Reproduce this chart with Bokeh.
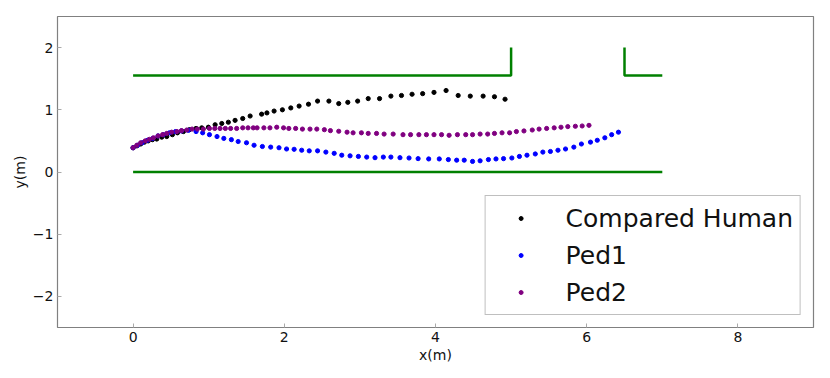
from bokeh.plotting import figure
from bokeh.models import Legend, LegendItem, FixedTicker, Range1d
from bokeh.embed import file_html
from bokeh.resources import INLINE

# Walls (corridor)
wall_lower_x = [0, 7]
wall_lower_y = [0, 0]
wall_upper_left_x = [0, 5, 5]
wall_upper_left_y = [1.55, 1.55, 2.0]
wall_upper_right_x = [6.5, 6.5, 7]
wall_upper_right_y = [2.0, 1.55, 1.55]

# Compared Human trajectory
human_x = [0.0, 0.05, 0.10, 0.15, 0.20, 0.256, 0.313, 0.379, 0.445, 0.52, 0.587, 0.666, 0.745, 0.833,
           0.908, 0.996, 1.085, 1.173, 1.26, 1.349, 1.45, 1.548, 1.70, 1.77, 1.865, 1.975,
           2.086, 2.196, 2.32, 2.44, 2.59, 2.72, 2.84, 2.97, 3.11, 3.26, 3.41, 3.55, 3.69,
           3.83, 3.98, 4.14, 4.30, 4.46, 4.63, 4.78, 4.92]
human_y = [0.39, 0.42, 0.45, 0.48, 0.50, 0.52, 0.53, 0.56, 0.57, 0.60, 0.63, 0.65, 0.68, 0.70,
           0.71, 0.72, 0.76, 0.78, 0.80, 0.83, 0.86, 0.90, 0.93, 0.95, 0.98, 1.00,
           1.03, 1.06, 1.09, 1.14, 1.14, 1.10, 1.12, 1.14, 1.18, 1.18, 1.22, 1.23, 1.25,
           1.26, 1.28, 1.31, 1.23, 1.22, 1.22, 1.21, 1.17]

# Ped1 trajectory
ped1_x = [0.0, 0.06, 0.12, 0.19, 0.26, 0.33, 0.40, 0.48, 0.56, 0.64, 0.73, 0.833, 0.92, 1.01,
          1.11, 1.20, 1.30, 1.39, 1.50, 1.60, 1.71, 1.82, 1.93, 2.03, 2.13, 2.23, 2.33,
          2.44, 2.55, 2.66, 2.76, 2.87, 2.98, 3.09, 3.20, 3.31, 3.41, 3.53, 3.65, 3.77,
          3.91, 4.05, 4.17, 4.28, 4.38, 4.49, 4.59, 4.70, 4.80, 4.90, 5.01, 5.11, 5.21,
          5.32, 5.42, 5.52, 5.62, 5.72, 5.83, 5.93, 6.05, 6.14, 6.24, 6.33, 6.42]
ped1_y = [0.39, 0.43, 0.47, 0.51, 0.54, 0.58, 0.60, 0.63, 0.65, 0.66, 0.67, 0.65, 0.63, 0.60,
          0.57, 0.54, 0.52, 0.49, 0.47, 0.43, 0.41, 0.40, 0.39, 0.37, 0.365, 0.35, 0.34,
          0.34, 0.32, 0.30, 0.27, 0.26, 0.25, 0.24, 0.23, 0.24, 0.24, 0.23, 0.225, 0.215,
          0.21, 0.21, 0.20, 0.19, 0.19, 0.17, 0.18, 0.20, 0.21, 0.215, 0.225, 0.25, 0.27,
          0.29, 0.32, 0.33, 0.35, 0.37, 0.40, 0.45, 0.48, 0.51, 0.55, 0.60, 0.64]

# Ped2 trajectory
ped2_x = [0.0, 0.05, 0.10, 0.16, 0.215, 0.27, 0.33, 0.39, 0.445, 0.51, 0.58, 0.64, 0.71, 0.78,
          0.85, 0.93, 1.01, 1.08, 1.15, 1.22, 1.29, 1.37, 1.45, 1.52, 1.59, 1.64, 1.73,
          1.81, 1.90, 1.99, 2.06, 2.15, 2.24, 2.34, 2.43, 2.53, 2.61, 2.72, 2.83, 2.91,
          3.02, 3.11, 3.22, 3.32, 3.44, 3.57, 3.67, 3.78, 3.88, 3.98, 4.08, 4.18, 4.29,
          4.40, 4.49, 4.59, 4.69, 4.78, 4.88, 4.98, 5.07, 5.17, 5.28, 5.37, 5.47, 5.57,
          5.66, 5.75, 5.85, 5.94, 6.03]
ped2_y = [0.39, 0.43, 0.47, 0.50, 0.525, 0.55, 0.58, 0.60, 0.62, 0.64, 0.65, 0.665, 0.675, 0.69,
          0.69, 0.69, 0.70, 0.70, 0.70, 0.70, 0.70, 0.70, 0.71, 0.71, 0.71, 0.71, 0.71,
          0.71, 0.72, 0.71, 0.70, 0.70, 0.69, 0.69, 0.69, 0.68, 0.665, 0.655, 0.64, 0.63,
          0.63, 0.62, 0.62, 0.61, 0.61, 0.60, 0.60, 0.60, 0.60, 0.60, 0.60, 0.59, 0.60,
          0.60, 0.60, 0.61, 0.61, 0.62, 0.63, 0.63, 0.65, 0.66, 0.675, 0.69, 0.70, 0.71,
          0.72, 0.73, 0.735, 0.74, 0.75]

x_ticks = [0, 2, 4, 6, 8]
y_ticks = [-2, -1, 0, 1, 2]

FONT = "DejaVu Sans"

p = figure(width=830, height=378, output_backend="svg", toolbar_location=None,
           x_range=Range1d(-1, 9), y_range=Range1d(-2.5, 2.5),
           min_border_left=57, min_border_right=17, min_border_top=16, min_border_bottom=51)

p.xgrid.visible = False
p.ygrid.visible = False
p.outline_line_color = "#808080"
p.outline_line_width = 1.2

for ax, ticks in ((p.xaxis[0], x_ticks), (p.yaxis[0], y_ticks)):
    ax.ticker = FixedTicker(ticks=ticks)
    ax.major_tick_in = 4
    ax.major_tick_out = 0
    ax.minor_tick_line_color = None
    ax.axis_line_color = None
    ax.major_tick_line_color = "#aaaaaa"
    ax.major_label_text_font = FONT
    ax.major_label_text_font_size = "14px"
    ax.major_label_text_color = "#111111"
    ax.major_label_standoff = 4
    ax.axis_label_text_font = FONT
    ax.axis_label_text_font_size = "14px"
    ax.axis_label_text_font_style = "normal"
    ax.axis_label_text_color = "#111111"
    ax.axis_label_standoff = 2

p.xaxis.axis_label = "x(m)"
p.yaxis.axis_label = "y(m)"

GREEN = "#008000"
p.line(wall_lower_x, wall_lower_y, line_color=GREEN, line_width=2.5)
p.line(wall_upper_left_x, wall_upper_left_y, line_color=GREEN, line_width=2.5)
p.line(wall_upper_right_x, wall_upper_right_y, line_color=GREEN, line_width=2.5)

r_h = p.scatter(human_x, human_y, size=4.2, color="black")
r_1 = p.scatter(ped1_x, ped1_y, size=4.2, color="blue")
r_2 = p.scatter(ped2_x, ped2_y, size=4.2, color="purple")

legend = Legend(items=[LegendItem(label="Compared Human", renderers=[r_h]),
                       LegendItem(label="Ped1", renderers=[r_1]),
                       LegendItem(label="Ped2", renderers=[r_2])],
                location="bottom_right")
legend.margin = 12
legend.padding = 7
legend.spacing = 7
legend.glyph_width = 56
legend.glyph_height = 10
legend.label_height = 30
legend.label_standoff = 17
legend.label_text_font = FONT
legend.label_text_font_size = "25px"
legend.label_text_color = "#111111"
legend.border_line_color = "#808080"
legend.border_line_width = 1.2
legend.background_fill_alpha = 1.0
p.add_layout(legend, "center")

open("out.html", "w").write(file_html(p, INLINE))
